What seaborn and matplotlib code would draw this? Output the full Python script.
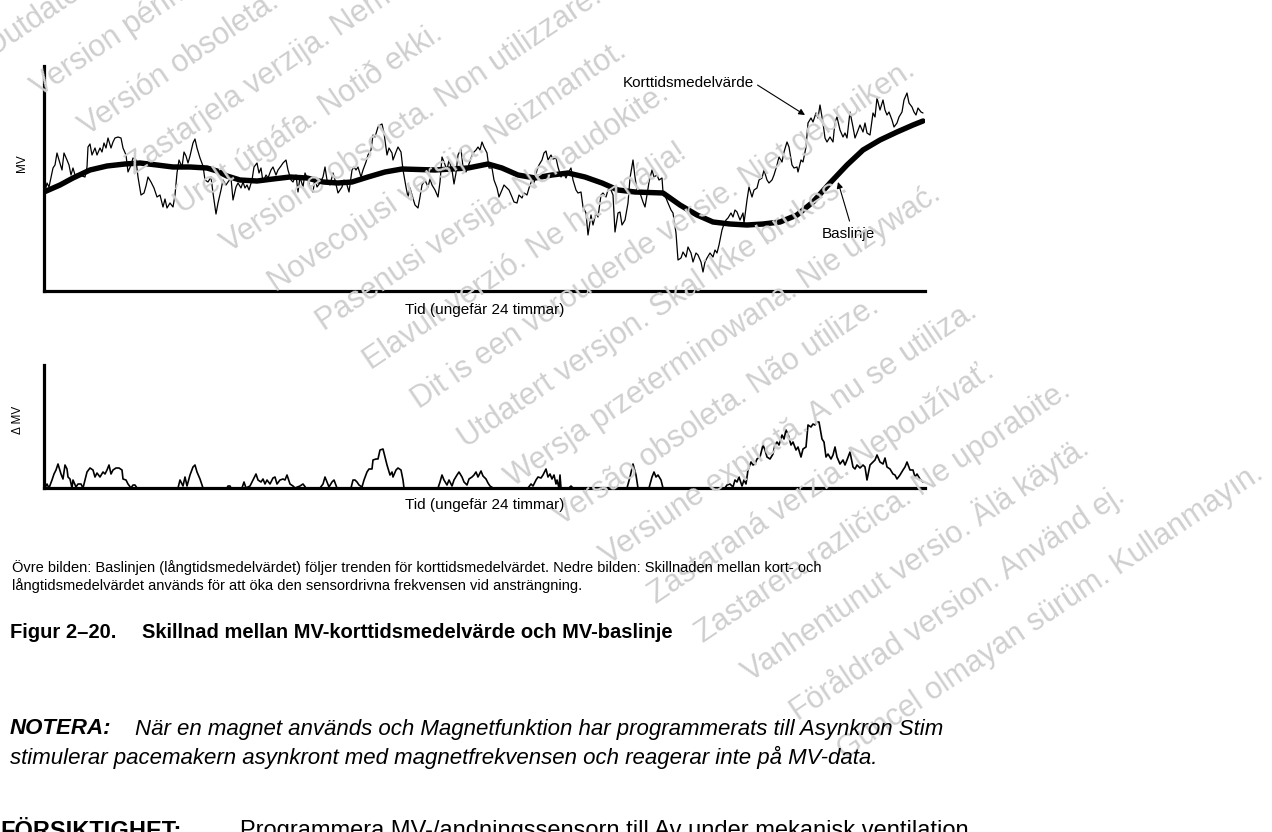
import numpy as np
import pandas as pd
import seaborn as sns
import matplotlib.pyplot as plt

# short-term average (time index, MV height)
short_term = [(1,99),(3,108),(5,104),(9,123),(11,126),(13,138),(15,131),(18,121),(20,138),(23,131),(25,126),(27,116),
    (29,123),(31,116),(34,117),(38,115),(41,114),(43,124),(44,144),(46,147),(48,136),(51,143),(53,136),(56,143),
    (58,139),(60,148),(62,143),(64,153),(67,143),(69,149),(71,153),(74,154),(77,153),(79,143),(82,136),(84,119),
    (87,126),(89,133),(92,131),(94,114),(97,96),(100,98),(102,105),(104,114),(107,109),(110,103),(113,94),(116,96),
    (119,84),(121,92),(123,83),(126,88),(129,84),(131,96),(133,118),(135,131),(138,124),(140,139),(142,135),(144,128),
    (146,135),(149,148),(151,152),(153,143),(156,133),(159,125),(161,111),(164,109),(167,114),(169,98),(172,77),(174,88),
    (177,101),(179,111),(182,106),(184,109),(187,113),(189,91),(192,104),(194,108),(197,103),(199,109),(201,103),(203,106),
    (205,101),(208,111),(210,124),(213,128),(215,118),(217,123),(219,109),(222,116),(224,113),(227,121),(229,124),(232,116),
    (234,121),(237,125),(239,128),(242,131),(244,121),(247,111),(249,109),(252,116),(254,99),(256,114),(259,104),(261,118),
    (264,111),(266,104),(269,99),(271,113),(273,104),(276,108),(279,114),(281,124),(283,111),(286,106),(289,118),(291,111),
    (294,98),(298,104),(300,111),(303,106),(305,99),(308,121),(310,124),(312,121),(314,124),(317,114),(319,121),(322,129),
    (324,136),(327,141),(329,156),(331,154),(334,164),(336,166),(338,167),(340,158),(343,136),(345,143),(348,138),(349,131),
    (352,139),(354,144),(357,139),(359,121),(362,104),(364,94),(366,103),(368,96),(371,86),(374,83),(376,94),(378,106),
    (381,111),(384,104),(386,112),(388,106),(391,101),(394,94),(396,109),(398,134),(400,129),(403,121),(405,131),(408,121),
    (410,107),(412,118),(414,136),(417,142),(419,124),(422,119),(424,124),(427,133),(429,138),(432,141),(434,144),(436,141),
    (438,149),(440,144),(443,138),(445,123),(448,123),(450,111),(453,103),(455,94),(458,101),(460,106),(463,103),(465,101),
    (468,94),(470,89),(473,88),(475,96),(478,93),(480,98),(483,96),(485,103),(488,111),(490,108),(493,121),(495,126),
    (498,131),(500,138),(502,140),(504,131),(507,136),(509,132),(512,133),(514,124),(517,114),(519,119),(522,113),(524,118),
    (527,123),(529,111),(532,101),(534,98),(537,99),(539,84),(542,78),(544,56),(547,76),(549,66),(552,78),(554,74),
    (557,96),(559,98),(562,94),(564,101),(567,101),(569,96),(571,59),(574,78),(576,79),(578,66),(581,71),(584,88),
    (586,113),(589,131),(591,114),(593,101),(596,98),(599,89),(601,84),(603,96),(605,109),(608,121),(610,114),(613,116),
    (615,111),(618,113),(619,99),(622,93),(624,88),(627,81),(629,78),(632,58),(634,31),(637,33),(639,39),(642,34),
    (644,44),(647,38),(649,29),(652,38),(654,36),(657,29),(659,19),(661,29),(663,33),(666,38),(669,34),(671,41),
    (673,38),(675,46),(678,61),(679,64),(682,71),(684,73),(687,78),(689,74),(691,81),(693,79),(696,71),(699,78),
    (700,68),(703,91),(705,104),(708,94),(710,101),(713,103),(715,111),(718,113),(720,121),(723,111),(725,108),(728,111),
    (730,116),(733,126),(735,134),(738,129),(740,139),(743,149),(745,144),(748,126),(750,123),(753,124),(754,119),(757,131),
    (759,129),(762,144),(764,168),(767,173),(769,169),(772,178),(774,173),(776,186),(779,168),(781,153),(783,149),(786,154),
    (789,149),(791,169),(793,174),(796,161),(799,154),(801,158),(803,153),(806,179),(809,164),(811,153),(813,158),(816,166),
    (819,159),(821,168),(823,158),(826,156),(829,178),(831,174),(833,193),(836,181),(839,191),(841,181),(843,176),(845,179),
    (848,171),(850,164),(853,168),(855,174),(858,179),(860,191),(863,198),(865,188),(868,184),(870,179),(872,176),(874,183),
    (877,179),(879,178)]

# baseline (long-term average)
baseline = [(0,99),(16,106),(29,113),(46,121),(63,125),(81,127),(96,128),(113,126),(129,124),(146,124),(163,123),(173,120),
    (183,115),(196,111),(213,110),(229,112),(246,114),(263,113),(279,109),(294,108),(308,109),(324,114),(341,119),(358,122),
    (391,121),(424,123),(444,127),(458,123),(474,116),(491,113),(508,116),(524,118),(541,114),(558,108),(574,101),(591,99),
    (619,98),(636,86),(653,76),(669,69),(686,67),(703,66),(719,67),(736,69),(753,76),(769,89),(786,108),(803,126),
    (819,141),(836,151),(853,159),(869,166),(879,170)]

# delta MV (lower panel)
delta = [(1,0),(3,4),(5,0),(8,8),(10,14),(12,18),(14,24),(17,14),(19,9),(21,23),(23,19),(24,11),(26,9),(28,0),(29,8),
    (32,1),(34,4),(37,4),(39,0),(41,8),(43,16),(46,20),(49,18),(51,11),(53,15),(56,11),(59,16),(61,14),(63,18),(65,23),
    (67,14),(69,18),(72,20),(75,20),(78,18),(79,9),(82,8),(84,4),(87,0),(89,3),(91,3),(93,0),(134,0),(136,8),(139,2),
    (141,11),(143,2),(146,13),(149,21),(151,23),(153,16),(156,9),(159,0),(183,0),(184,2),(186,2),(187,0),(198,0),(200,6),
    (202,0),(206,2),(209,8),(212,14),(214,8),(217,6),(219,9),(221,4),(223,8),(226,4),(229,10),(231,11),(233,4),(236,8),
    (239,9),(241,8),(243,13),(246,4),(249,2),(251,0),(256,2),(259,4),(262,0),(276,0),(279,4),(281,11),(283,6),(285,1),
    (288,6),(290,8),(293,0),(307,0),(309,8),(311,8),(313,6),(315,3),(318,1),(320,8),(323,16),(325,19),(328,19),(329,28),
    (332,29),(334,29),(336,38),(339,39),(341,31),(343,23),(346,13),(348,16),(349,11),(352,18),(354,20),(357,18),(359,8),
    (360,0),(394,0),(396,6),(398,13),(400,8),(403,3),(405,8),(408,2),(410,8),(413,13),(415,16),(418,11),(420,6),(423,3),
    (425,9),(428,11),(430,13),(432,16),(434,11),(437,17),(439,12),(442,9),(444,5),(446,2),(449,0),(484,0),(487,4),(489,2),
    (492,8),(494,11),(497,10),(499,13),(502,19),(504,11),(506,14),(508,9),(510,13),(512,4),(513,8),(515,0),(516,13),(517,0),
    (525,0),(527,2),(529,0),(583,0),(586,11),(589,24),(592,13),(594,0),(605,0),(608,11),(610,16),(612,11),(614,13),(617,8),
    (619,0),(681,0),(683,3),(686,4),(689,1),(691,8),(693,6),(695,11),(698,2),(700,8),(702,4),(704,18),(707,26),(709,23),
    (711,24),(713,29),(716,31),(719,43),(721,38),(723,31),(726,29),(729,34),(731,43),(733,46),(735,43),(738,53),(740,49),
    (742,58),(744,54),(747,43),(749,46),(752,38),(754,41),(757,31),(759,39),(762,41),(764,63),(767,61),(769,64),(771,63),
    (773,66),(775,66),(778,49),(780,46),(782,31),(784,34),(787,29),(789,33),(791,41),(793,31),(796,24),(799,28),(801,23),
    (803,28),(806,36),(809,21),(811,19),(813,23),(816,20),(819,23),(821,21),(823,8),(826,23),(829,26),(831,28),(833,33),
    (836,26),(839,24),(841,30),(843,21),(846,19),(849,14),(851,13),(853,9),(856,13),(859,18),(861,21),(863,26),(866,18),
    (869,18),(871,11),(873,14),(876,9),(879,6)]

watermarks = ["Outdated version. Do not use.", "Version périmée. Ne pas utiliser.", "Versión obsoleta. No utilizar.",
    "Zastarjela verzija. Nemojte upotrebljavati.", "Úrelt útgáfa. Notið ekki.", "Versione obsoleta. Non utilizzare.",
    "Novecojusi versija. Neizmantot.", "Pasenusi versija. Nenaudokite.", "Elavult verzió. Ne használja!",
    "Dit is een verouderde versie. Niet gebruiken.", "Utdatert versjon. Skal ikke brukes.",
    "Wersja przeterminowana. Nie używać.", "Versão obsoleta. Não utilize.", "Versiune expirată. A nu se utiliza.",
    "Zastaraná verzia. Nepoužívať.", "Zastarela različica. Ne uporabite.", "Vanhentunut versio. Älä käytä.",
    "Föråldrad version. Använd ej.", "Güncel olmayan sürüm. Kullanmayın."]

sns.set_style("white")
plt.rcParams['font.family'] = ['Liberation Sans', 'DejaVu Sans']
plt.rcParams['text.color'] = 'black'

df_s = pd.DataFrame(short_term, columns=["t", "mv"])
df_b = pd.DataFrame(baseline, columns=["t", "mv"])
df_d = pd.DataFrame(delta, columns=["t", "dmv"])

W, H = 1272, 832
fig = plt.figure(figsize=(W / 100, H / 100), dpi=100)

def px_axes(x0, y0, x1, y1):
    return fig.add_axes([x0 / W, 1 - y1 / H, (x1 - x0) / W, (y1 - y0) / H])

def put(x, y, s, **kw):
    fig.text(x / W, 1 - y / H, s, **kw)

# watermark layer
for i, txt in enumerate(watermarks):
    put(-8 + i * 47.4, 58 + i * 39.0, txt, rotation=34, rotation_mode='anchor',
        ha='left', va='baseline', fontsize=22, color='#cfcfcf', zorder=0)

ax1 = px_axes(44, 66, 925, 291)
ax2 = px_axes(44, 365, 925, 488)
for ax in (ax1, ax2):
    ax.set_facecolor('none')
    ax.set_xlim(0, 881)
    ax.set_xticks([])
    ax.set_yticks([])
    sns.despine(ax=ax)
    for s in ("left", "bottom"):
        ax.spines[s].set_linewidth(2.3)
        ax.spines[s].set_color("black")

sns.lineplot(data=df_s, x="t", y="mv", ax=ax1, color="black", lw=0.9, estimator=None, sort=False)
sns.lineplot(data=df_b, x="t", y="mv", ax=ax1, color="black", lw=3.9, estimator=None, sort=False,
             solid_capstyle="round", solid_joinstyle="round")
ax1.set_ylim(0, 225)
ax1.set_xlabel("")
ax1.set_ylabel("")

sns.lineplot(data=df_d, x="t", y="dmv", ax=ax2, color="black", lw=1.2, estimator=None, sort=False, clip_on=False)
ax2.set_ylim(0, 123)
ax2.set_xlabel("")
ax2.set_ylabel("")

ax1.annotate("Korttidsmedelvärde", xy=(761, 176), xytext=(579, 208), fontsize=11, va="center", ha="left",
             arrowprops=dict(arrowstyle="-|>", color="black", lw=0.8, mutation_scale=9, shrinkA=0, shrinkB=0,
                             relpos=(1.0, 0.5)))
ax1.annotate("Baslinje", xy=(794, 109), xytext=(778, 57), fontsize=11, va="center", ha="left",
             arrowprops=dict(arrowstyle="-|>", color="black", lw=0.8, mutation_scale=9, shrinkA=2, shrinkB=0,
                             relpos=(0.55, 1.0)))

put(22, 163, "MV", rotation=90, ha="center", va="center", fontsize=8.5)
put(18, 420, "Δ MV", rotation=90, ha="center", va="center", fontsize=8.5)
put(485, 310, "Tid (ungefär 24 timmar)", ha="center", va="center", fontsize=11)
put(485, 505, "Tid (ungefär 24 timmar)", ha="center", va="center", fontsize=11)

put(12, 568, "Övre bilden: Baslinjen (långtidsmedelvärdet) följer trenden för korttidsmedelvärdet. "
    "Nedre bilden: Skillnaden mellan kort- och", ha="left", va="center", fontsize=10.5)
put(12, 586, "långtidsmedelvärdet används för att öka den sensordrivna frekvensen vid ansträngning.",
    ha="left", va="center", fontsize=10.5)
put(10, 633, "Figur 2–20.", ha="left", va="center", fontsize=14.5, fontweight="bold")
put(142, 633, "Skillnad mellan MV-korttidsmedelvärde och MV-baslinje", ha="left", va="center",
    fontsize=14.5, fontweight="bold")
put(10, 729, "NOTERA:", ha="left", va="center", fontsize=16, fontweight="bold", style="italic")
put(135, 729, "När en magnet används och Magnetfunktion har programmerats till Asynkron Stim",
    ha="left", va="center", fontsize=16, style="italic")
put(10, 757, "stimulerar pacemakern asynkront med magnetfrekvensen och reagerar inte på MV-data.",
    ha="left", va="center", fontsize=16, style="italic")
put(0, 831, "FÖRSIKTIGHET:", ha="left", va="center", fontsize=17, fontweight="bold")
put(240, 831, "Programmera MV-/andningssensorn till Av under mekanisk ventilation.",
    ha="left", va="center", fontsize=17)

fig.savefig("out.png", dpi=100)
